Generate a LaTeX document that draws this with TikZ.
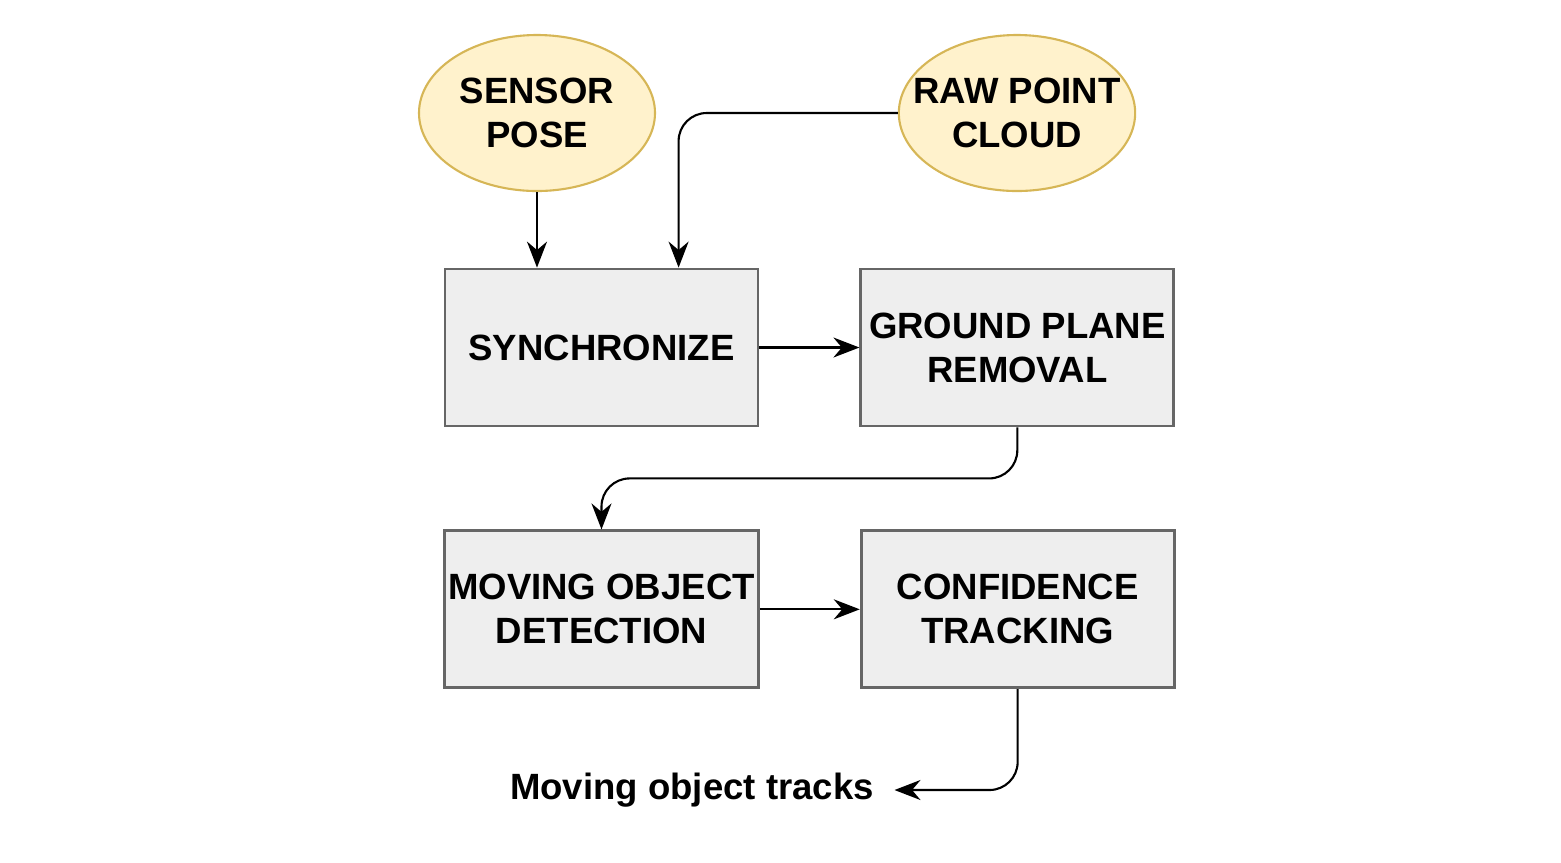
\documentclass[tikz,border=0pt]{standalone}
\usepackage{fontspec}
\setmainfont{Liberation Sans}
\usetikzlibrary{arrows.meta,positioning,shapes.geometric}
\definecolor{softyellow}{HTML}{FFF2CC}
\definecolor{darkyellow}{HTML}{D6B656}
\definecolor{softgray}{HTML}{EEEEEE}
\definecolor{darkgray}{HTML}{666666}
\begin{document}
\begin{tikzpicture}[node distance=1.0cm,every node/.style={font=\bfseries\fontsize{10.4}{12.5}\selectfont,align=center},
  src/.style={draw=darkyellow,fill=softyellow,ellipse,minimum width=2.36cm,minimum height=1.56cm,inner sep=-2mm,line width=0.6pt},
  stage/.style={draw=darkgray,fill=softgray,minimum width=3.13cm,minimum height=1.57cm,inner sep=1pt,line width=0.8pt},
  arr/.style={-{Stealth[length=2.6mm,width=2mm]},line width=0.6pt,rounded corners=8pt}]
\useasboundingbox (0,0) rectangle (15.61,-8.62);
\node[src] (sensor) at (5.37,-1.13) {SENSOR\\POSE};
\node[src] (raw) at (10.17,-1.13) {RAW POINT\\CLOUD};
\node[stage] (sync) at (6.015,-3.475) {SYNCHRONIZE};
\node[stage,right=of sync] (ground) {GROUND PLANE\\REMOVAL};
\node[stage,below=1.02cm of sync] (moving) {MOVING OBJECT\\DETECTION};
\node[stage,right=of moving] (conf) {CONFIDENCE\\TRACKING};
\node[inner sep=2mm] (tracks) at (6.92,-7.9) {Moving object tracks};
\draw[arr] (sensor.south) -- (sensor.south |- sync.north);
\draw[arr] (raw.west) -| ([xshift=2.35cm]sync.north west);
\draw[arr] (sync) -- (ground);
\draw[arr] (ground.south) -- ++(0,-0.51) -| (moving.north);
\draw[arr] (moving) -- (conf);
\draw[arr] (conf.south) |- (tracks.east);
\end{tikzpicture}
\end{document}
